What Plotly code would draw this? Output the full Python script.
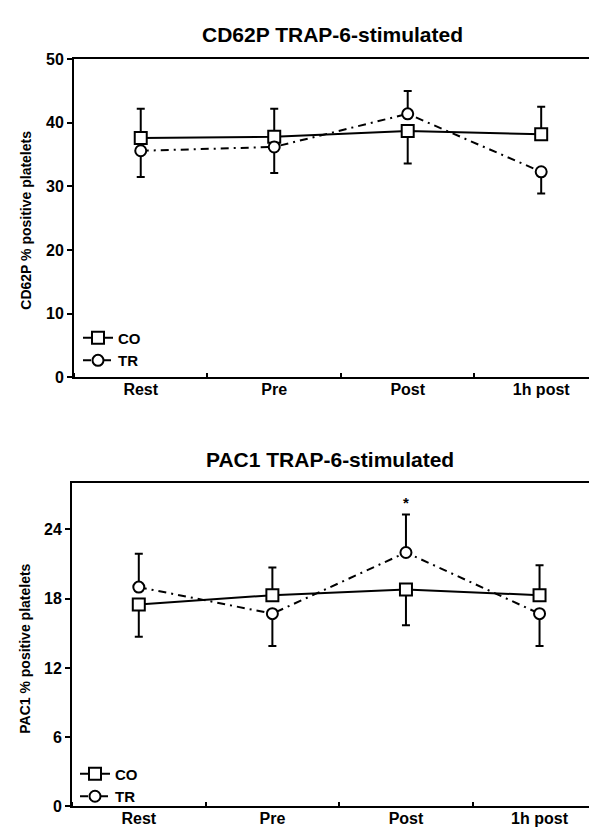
import plotly.graph_objects as go

# ---- data ----
timepoints = ["Rest", "Pre", "Post", "1h post"]
xpos = [0, 1, 2, 3]

# CD62P TRAP-6-stimulated
cd62p_co = [37.6, 37.8, 38.7, 38.2]
cd62p_co_err_up = [4.6, 4.4, 0.0, 4.3]
cd62p_co_err_dn = [0.0, 0.0, 5.1, 0.0]
cd62p_tr = [35.6, 36.2, 41.4, 32.3]
cd62p_tr_err_up = [0.0, 0.0, 3.6, 0.0]
cd62p_tr_err_dn = [4.1, 4.1, 0.0, 3.4]

# PAC1 TRAP-6-stimulated
pac1_co = [17.5, 18.3, 18.8, 18.3]
pac1_co_err_up = [0.0, 2.4, 0.0, 2.6]
pac1_co_err_dn = [2.8, 0.0, 3.1, 0.0]
pac1_tr = [19.0, 16.7, 22.0, 16.7]
pac1_tr_err_up = [2.9, 0.0, 3.3, 0.0]
pac1_tr_err_dn = [0.0, 2.8, 0.0, 2.8]

FONT = "Liberation Sans, Arial, sans-serif"
W, H = 597, 829


def px_x(p):
    return p / W


def px_y(p):
    return 1 - p / H


fig = go.Figure()


def add_pair(co, co_up, co_dn, tr, tr_up, tr_dn, xa, ya, legend):
    fig.add_trace(go.Scatter(
        x=xpos, y=co, name="CO", mode="lines+markers",
        xaxis=xa, yaxis=ya, legend=legend,
        line=dict(color="black", width=2),
        marker=dict(symbol="square", size=12, color="white",
                    line=dict(color="black", width=2)),
        error_y=dict(type="data", symmetric=False, array=co_up, arrayminus=co_dn,
                     color="black", thickness=2, width=4),
    ))
    fig.add_trace(go.Scatter(
        x=xpos, y=tr, name="TR", mode="lines+markers",
        xaxis=xa, yaxis=ya, legend=legend,
        line=dict(color="black", width=2, dash="8px,5px,2px,5px"),
        marker=dict(symbol="circle", size=11, color="white",
                    line=dict(color="black", width=2)),
        error_y=dict(type="data", symmetric=False, array=tr_up, arrayminus=tr_dn,
                     color="black", thickness=2, width=4),
    ))


add_pair(cd62p_co, cd62p_co_err_up, cd62p_co_err_dn,
         cd62p_tr, cd62p_tr_err_up, cd62p_tr_err_dn, "x", "y", "legend")
add_pair(pac1_co, pac1_co_err_up, pac1_co_err_dn,
         pac1_tr, pac1_tr_err_up, pac1_tr_err_dn, "x2", "y2", "legend2")

xcommon = dict(
    tickmode="array", tickvals=xpos, ticktext=timepoints, ticks="",
    showgrid=False, zeroline=False, showline=True, linecolor="black",
    linewidth=2, mirror=True, ticklabelstandoff=-4,
    tickfont=dict(family=FONT, size=16, color="black", weight="bold"),
    minor=dict(tick0=0.5, dtick=1, ticks="inside", ticklen=4, tickwidth=2,
               tickcolor="black", showgrid=False),
)
ycommon = dict(
    showgrid=False, zeroline=False, showline=True, linecolor="black",
    linewidth=2, ticks="outside", ticklen=5, tickwidth=2, tickcolor="black",
    tickfont=dict(family=FONT, size=16, color="black", weight="bold"),
)
legfont = dict(family=FONT, size=15, color="black", weight="bold")

fig.update_layout(
    width=W, height=H,
    margin=dict(l=0, r=0, t=0, b=0),
    paper_bgcolor="white", plot_bgcolor="white",
    showlegend=True,
    xaxis=dict(**xcommon, domain=[px_x(66), 1], range=[-0.5, 3.478], anchor="y"),
    yaxis=dict(**ycommon, domain=[px_y(369), px_y(44)], range=[0, 50],
               tickvals=[0, 10, 20, 30, 40, 50], anchor="x"),
    xaxis2=dict(**xcommon, domain=[px_x(64), 1], range=[-0.5, 3.49], anchor="y2"),
    yaxis2=dict(**ycommon, domain=[px_y(807), px_y(477)], range=[0, 28],
                tickvals=[0, 6, 12, 18, 24], anchor="x2"),
    legend=dict(x=px_x(70), y=px_y(312), xanchor="left", yanchor="top",
                bgcolor="rgba(0,0,0,0)", borderwidth=0, tracegroupgap=0,
                font=legfont),
    legend2=dict(x=px_x(67), y=px_y(757), xanchor="left", yanchor="top",
                 bgcolor="rgba(0,0,0,0)", borderwidth=0, tracegroupgap=0,
                 font=legfont),
    annotations=[
        dict(text="CD62P TRAP-6-stimulated", x=px_x(324), y=px_y(19),
             xref="paper", yref="paper", xanchor="center", yanchor="middle",
             showarrow=False, font=dict(family=FONT, size=21, color="black", weight="bold")),
        dict(text="PAC1 TRAP-6-stimulated", x=px_x(322), y=px_y(453),
             xref="paper", yref="paper", xanchor="center", yanchor="middle",
             showarrow=False, font=dict(family=FONT, size=21, color="black", weight="bold")),
        dict(text="CD62P % positive platelets", x=px_x(18), y=px_y(209),
             xref="paper", yref="paper", xanchor="center", yanchor="middle",
             textangle=-90, showarrow=False,
             font=dict(family=FONT, size=14, color="black", weight="bold")),
        dict(text="PAC1 % positive platelets", x=px_x(17), y=px_y(646),
             xref="paper", yref="paper", xanchor="center", yanchor="middle",
             textangle=-90, showarrow=False,
             font=dict(family=FONT, size=14, color="black", weight="bold")),
        dict(text="*", x=2, y=26.3, xref="x2", yref="y2",
             xanchor="center", yanchor="middle", showarrow=False,
             font=dict(family=FONT, size=15, color="black", weight="bold")),
    ],
)

fig.write_html("out.html")
